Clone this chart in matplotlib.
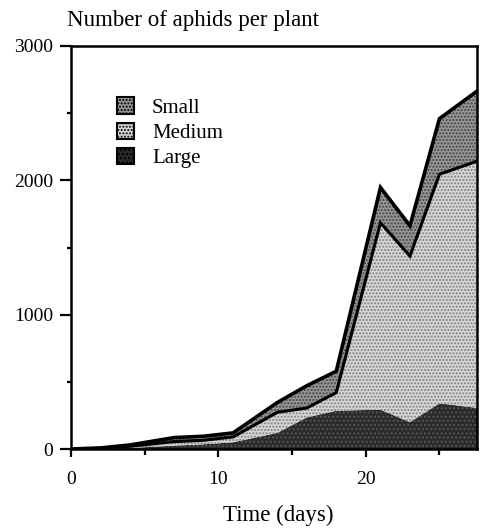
import matplotlib
matplotlib.use("Agg")
import matplotlib.pyplot as plt
from matplotlib.patches import Patch
from matplotlib.ticker import MultipleLocator

plt.rcParams['font.family'] = ['Liberation Serif', 'DejaVu Serif']
plt.rcParams['hatch.linewidth'] = 1.0

# Data: sampling days and aphid numbers per size class
days = [0, 2, 4, 7, 9, 11, 14, 16, 18, 21, 23, 25, 28]
large = [0, 2, 8, 25, 35, 50, 120, 235, 285, 293, 200, 340, 300]
medium = [0, 3, 12, 30, 30, 40, 153, 70, 135, 1391, 1236, 1705, 1860]
small = [0, 3, 10, 30, 30, 30, 73, 166, 159, 263, 226, 414, 540]

categories = ["Small", "Medium", "Large"]
x_ticks = [0, 10, 20]
y_ticks = [0, 1000, 2000, 3000]

cum_large = large
cum_medium = [a + b for a, b in zip(large, medium)]
cum_total = [a + b for a, b in zip(cum_medium, small)]

fig = plt.figure(figsize=(4.8, 5.31), dpi=100)
ax = fig.add_axes([71/480, 1 - 449/531, (477-71)/480, (449-46)/531])

c_small = '#959595'
c_medium = '#d6d6d6'
c_large = '#2a2a2a'

ax.fill_between(days, 0, cum_large, facecolor=c_large, edgecolor='#555555',
                hatch='....', lw=0, zorder=2)
ax.fill_between(days, cum_large, cum_medium, facecolor=c_medium, edgecolor='#808080',
                hatch='.....', lw=0, zorder=2)
ax.fill_between(days, cum_medium, cum_total, facecolor=c_small, edgecolor='#454545',
                hatch='.....', lw=0, zorder=2)
ax.plot(days, cum_medium, color='black', lw=2.2, zorder=3, solid_joinstyle='miter')
ax.plot(days, cum_total, color='black', lw=2.6, zorder=3, solid_joinstyle='miter')

ax.set_xlim(0, 27.55)
ax.set_ylim(0, 3000)
ax.set_xticks(x_ticks)
ax.set_yticks(y_ticks)
ax.xaxis.set_minor_locator(MultipleLocator(5))
ax.yaxis.set_minor_locator(MultipleLocator(500))
ax.tick_params(axis='both', which='major', direction='out', width=1.6,
               labelsize=14, colors='black')
ax.tick_params(axis='x', which='major', length=6, pad=10)
ax.tick_params(axis='y', which='major', length=8, pad=5)
ax.tick_params(axis='x', which='minor', direction='out', length=4, width=1.6)
ax.tick_params(axis='y', which='minor', direction='out', length=3, width=1.6)
for s in ax.spines.values():
    s.set_linewidth(1.8)

handles = [
    Patch(facecolor=c_small, edgecolor='black', hatch='.....', lw=1.5),
    Patch(facecolor=c_medium, edgecolor='black', hatch='.....', lw=1.5),
    Patch(facecolor=c_large, edgecolor='black', hatch='....', lw=1.5),
]
leg = ax.legend(handles, categories, loc='upper left', bbox_to_anchor=(0.092, 0.893),
                frameon=False, fontsize=15, handlelength=0.85, handleheight=0.85,
                handletextpad=0.85, labelspacing=0.22, borderaxespad=0)

fig.text(67/480, 1 - 26/531, "Number of aphids per plant", fontsize=16.5,
         ha='left', va='baseline')
fig.text(278/480, 1 - 521/531, "Time (days)", fontsize=16.5, ha='center', va='baseline')

fig.savefig("out.png", dpi=100)
